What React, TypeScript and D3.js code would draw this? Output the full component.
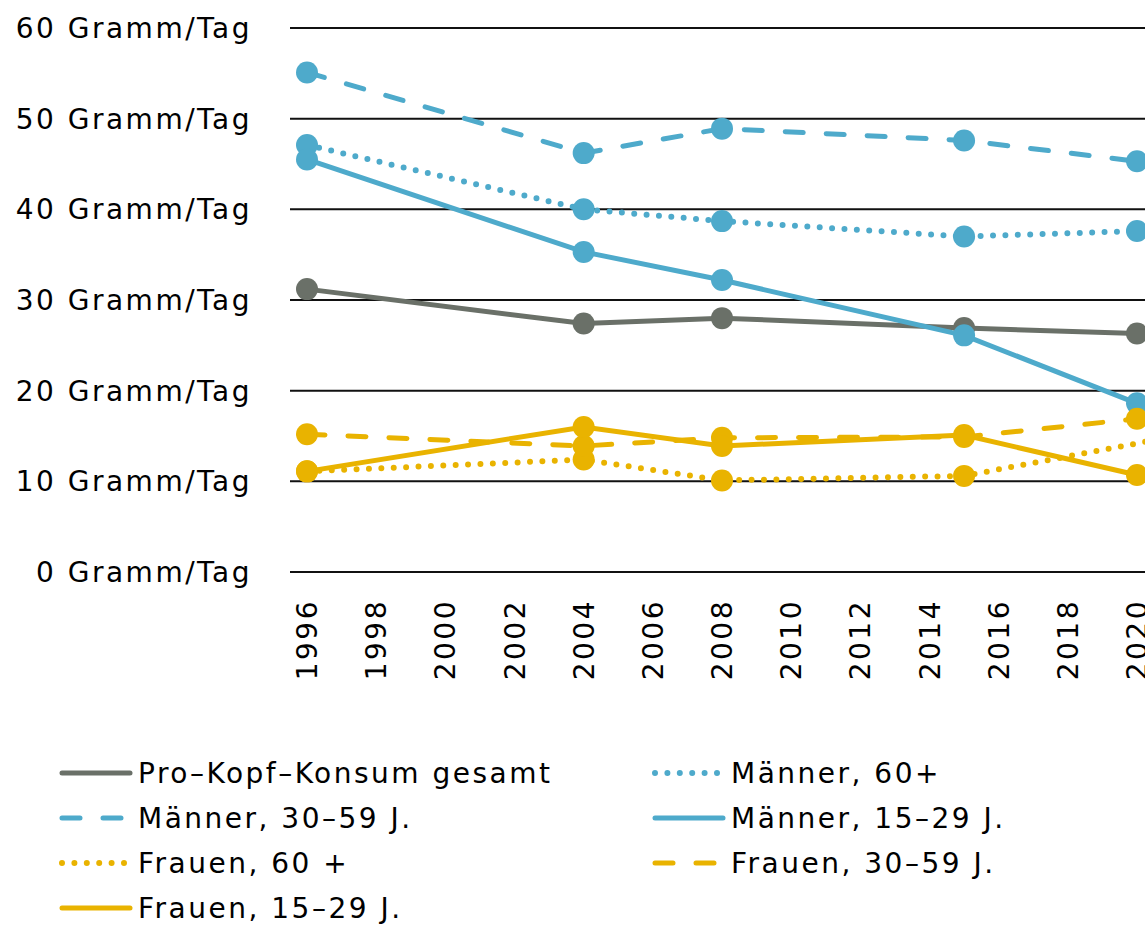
import React, { useEffect, useRef } from "react";
import * as d3 from "d3";

const years = [1996, 2004, 2008, 2015, 2020];
const yearsFrauen60 = [1996, 2004, 2008, 2015, 2021];
const yTicks = [0, 10, 20, 30, 40, 50, 60];
const xTicks = [1996, 1998, 2000, 2002, 2004, 2006, 2008, 2010, 2012, 2014, 2016, 2018, 2020];

const proKopf = [31.2, 27.4, 28.0, 26.9, 26.3];
const maenner3059 = [55.1, 46.2, 48.9, 47.6, 45.3];
const maenner60 = [47.1, 40.0, 38.7, 37.0, 37.6];
const maenner1529 = [45.5, 35.3, 32.2, 26.1, 18.6];
const frauen60 = [11.1, 12.4, 10.1, 10.6, 14.9];
const frauen3059 = [15.2, 13.9, 14.8, 14.9, 16.9];
const frauen1529 = [11.1, 16.0, 13.9, 15.1, 10.7];

const GRAY = "#6a7068";
const BLUE = "#4eaacb";
const YELLOW = "#e9b300";

const series = [
  { name: "Pro–Kopf–Konsum gesamt", values: proKopf, x: years, color: GRAY, style: "solid" },
  { name: "Männer, 30–59 J.", values: maenner3059, x: years, color: BLUE, style: "dashed" },
  { name: "Männer, 60+", values: maenner60, x: years, color: BLUE, style: "dotted" },
  { name: "Männer, 15–29 J.", values: maenner1529, x: years, color: BLUE, style: "solid" },
  { name: "Frauen, 60 +", values: frauen60, x: yearsFrauen60, color: YELLOW, style: "dotted" },
  { name: "Frauen, 30–59 J.", values: frauen3059, x: years, color: YELLOW, style: "dashed" },
  { name: "Frauen, 15–29 J.", values: frauen1529, x: years, color: YELLOW, style: "solid" },
];

// legend order: left column / right column, row by row
const legendOrder = [
  "Pro–Kopf–Konsum gesamt",
  "Männer, 60+",
  "Männer, 30–59 J.",
  "Männer, 15–29 J.",
  "Frauen, 60 +",
  "Frauen, 30–59 J.",
  "Frauen, 15–29 J.",
];

function styleLine(sel, s) {
  sel.attr("stroke", s.color).attr("fill", "none").attr("stroke-linecap", "round");
  if (s.style === "solid") sel.attr("stroke-width", 5);
  if (s.style === "dashed") sel.attr("stroke-width", 5).attr("stroke-dasharray", "18 23");
  if (s.style === "dotted") sel.attr("stroke-width", 6).attr("stroke-dasharray", "0 12.4");
}

function App() {
  const ref = useRef(null);

  useEffect(() => {
    const width = 1145;
    const height = 925;
    const font = "'DejaVu Sans', sans-serif";
    const spacing = "2.5px";

    d3.select(ref.current).select("svg").remove();

    const svg = d3
      .select(ref.current)
      .append("svg")
      .attr("width", width)
      .attr("height", height)
      .style("position", "absolute")
      .style("left", 0)
      .style("top", 0)
      .style("background", "#fff");

    const x = d3.scaleLinear().domain([1996, 2020]).range([307, 1137]);
    const y = d3.scaleLinear().domain([0, 60]).range([572, 28]);

    // grid lines
    svg
      .selectAll("line.grid")
      .data(yTicks)
      .enter()
      .append("line")
      .attr("x1", 290)
      .attr("x2", width)
      .attr("y1", (d) => y(d))
      .attr("y2", (d) => y(d))
      .attr("stroke", "#111")
      .attr("stroke-width", 2);

    // y labels
    svg
      .selectAll("text.ylab")
      .data(yTicks)
      .enter()
      .append("text")
      .attr("x", 252)
      .attr("y", (d) => y(d))
      .attr("dy", "0.36em")
      .attr("text-anchor", "end")
      .style("font-family", font)
      .style("font-size", "28px")
      .style("letter-spacing", spacing)
      .text((d) => `${d} Gramm/Tag`);

    // x labels
    svg
      .selectAll("text.xlab")
      .data(xTicks)
      .enter()
      .append("text")
      .attr("transform", (d) => `translate(${x(d)}, 599) rotate(-90)`)
      .attr("dy", "0.36em")
      .attr("text-anchor", "end")
      .style("font-family", font)
      .style("font-size", "28px")
      .style("letter-spacing", spacing)
      .text((d) => d);

    const line = d3
      .line()
      .x((d) => x(d[0]))
      .y((d) => y(d[1]));

    const plot = svg.append("g");

    series.forEach((s) => {
      const pts = s.x.map((yr, i) => [yr, s.values[i]]);
      plot.append("path").attr("d", line(pts)).call(styleLine, s);
      plot
        .selectAll(null)
        .data(pts)
        .enter()
        .append("circle")
        .attr("cx", (d) => x(d[0]))
        .attr("cy", (d) => y(d[1]))
        .attr("r", 11)
        .attr("fill", s.color);
    });

    // legend
    const legend = svg.append("g");
    legendOrder.forEach((name, i) => {
      const s = series.find((d) => d.name === name);
      const col = i % 2;
      const row = Math.floor(i / 2);
      const lx = col === 0 ? 62 : 655;
      const ly = 773 + row * 45;
      legend
        .append("line")
        .attr("x1", lx)
        .attr("x2", lx + 68)
        .attr("y1", ly)
        .attr("y2", ly)
        .call(styleLine, s);
      legend
        .append("text")
        .attr("x", lx + 76)
        .attr("y", ly)
        .attr("dy", "0.36em")
        .style("font-family", font)
        .style("font-size", "28px")
        .style("letter-spacing", spacing)
        .text(name);
    });
  }, []);

  return <div ref={ref}></div>;
}

export default App;
